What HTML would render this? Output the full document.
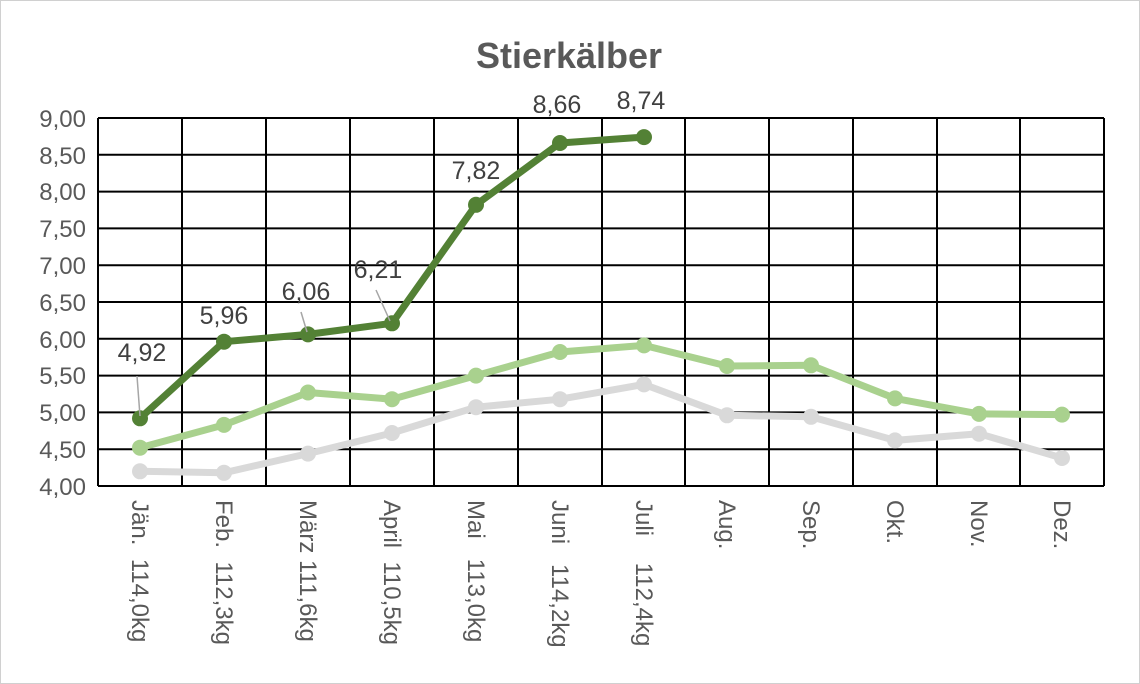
<!DOCTYPE html>
<html><head><meta charset="utf-8"><style>body{margin:0;background:#fff}svg{display:block}</style></head>
<body>
<svg width="1140" height="684" xmlns="http://www.w3.org/2000/svg" font-family="Liberation Sans, sans-serif">
<rect x="0.5" y="0.5" width="1139" height="683" fill="#fff" stroke="#d0d0d0"/>
<text x="569" y="68" text-anchor="middle" font-size="36" font-weight="bold" fill="#595959">Stierkälber</text>
<g stroke="#000" stroke-width="2">
<line x1="98" y1="118" x2="1104" y2="118"/><line x1="98" y1="154.8" x2="1104" y2="154.8"/><line x1="98" y1="191.6" x2="1104" y2="191.6"/><line x1="98" y1="228.4" x2="1104" y2="228.4"/><line x1="98" y1="265.2" x2="1104" y2="265.2"/><line x1="98" y1="302" x2="1104" y2="302"/><line x1="98" y1="338.8" x2="1104" y2="338.8"/><line x1="98" y1="375.6" x2="1104" y2="375.6"/><line x1="98" y1="412.4" x2="1104" y2="412.4"/><line x1="98" y1="449.2" x2="1104" y2="449.2"/><line x1="98" y1="486" x2="1104" y2="486"/>
<line x1="98" y1="118" x2="98" y2="486"/><line x1="182" y1="118" x2="182" y2="486"/><line x1="266" y1="118" x2="266" y2="486"/><line x1="350" y1="118" x2="350" y2="486"/><line x1="434" y1="118" x2="434" y2="486"/><line x1="518" y1="118" x2="518" y2="486"/><line x1="602" y1="118" x2="602" y2="486"/><line x1="685" y1="118" x2="685" y2="486"/><line x1="769" y1="118" x2="769" y2="486"/><line x1="853" y1="118" x2="853" y2="486"/><line x1="937" y1="118" x2="937" y2="486"/><line x1="1020" y1="118" x2="1020" y2="486"/><line x1="1104" y1="118" x2="1104" y2="486"/>
</g>
<g font-size="24" fill="#595959" text-anchor="end">
<text x="86" y="127">9,00</text><text x="86" y="164">8,50</text><text x="86" y="200">8,00</text><text x="86" y="237">7,50</text><text x="86" y="274">7,00</text><text x="86" y="311">6,50</text><text x="86" y="348">6,00</text><text x="86" y="384">5,50</text><text x="86" y="421">5,00</text><text x="86" y="458">4,50</text><text x="86" y="495">4,00</text>
</g>
<g font-size="24" fill="#595959">
<text transform="translate(132,500) rotate(90)" xml:space="preserve">Jän.  114,0kg</text>
<text transform="translate(216,500) rotate(90)" xml:space="preserve">Feb.  112,3kg</text>
<text transform="translate(300,500) rotate(90)">März 111,6kg</text>
<text transform="translate(384,500) rotate(90)" xml:space="preserve">April  110,5kg</text>
<text transform="translate(468,500) rotate(90)" xml:space="preserve">Mai   113,0kg</text>
<text transform="translate(552,500) rotate(90)" xml:space="preserve">Juni   114,2kg</text>
<text transform="translate(636,500) rotate(90)" xml:space="preserve">Juli    112,4kg</text>
<text transform="translate(719,500) rotate(90)">Aug.</text>
<text transform="translate(803,500) rotate(90)">Sep.</text>
<text transform="translate(887,500) rotate(90)">Okt.</text>
<text transform="translate(971,500) rotate(90)">Nov.</text>
<text transform="translate(1054,500) rotate(90)">Dez.</text>
</g>
<g fill="none" stroke-width="7" stroke-linejoin="round">
<polyline stroke="#d9d9d9" points="140,471.3 224,472.8 308,453.6 392,433 476,407.2 560,399.2 644,384.4 727,415.3 811,416.8 895,440.4 979,433.7 1062,458"/>
<polyline stroke="#a9d18e" points="140,447.7 224,424.9 308,392.5 392,399.2 476,375.6 560,352 644,345.4 727,366 811,365.3 895,398.4 979,413.9 1062,414.6"/>
<polyline stroke="#538135" points="140,418.3 224,341.7 308,334.4 392,323.3 476,204.8 560,143 644,137.1"/>
</g>
<g fill="#d9d9d9"><circle cx="140" cy="471.3" r="8"/><circle cx="224" cy="472.8" r="8"/><circle cx="308" cy="453.6" r="8"/><circle cx="392" cy="433" r="8"/><circle cx="476" cy="407.2" r="8"/><circle cx="560" cy="399.2" r="8"/><circle cx="644" cy="384.4" r="8"/><circle cx="727" cy="415.3" r="8"/><circle cx="811" cy="416.8" r="8"/><circle cx="895" cy="440.4" r="8"/><circle cx="979" cy="433.7" r="8"/><circle cx="1062" cy="458" r="8"/></g>
<g fill="#a9d18e"><circle cx="140" cy="447.7" r="8"/><circle cx="224" cy="424.9" r="8"/><circle cx="308" cy="392.5" r="8"/><circle cx="392" cy="399.2" r="8"/><circle cx="476" cy="375.6" r="8"/><circle cx="560" cy="352" r="8"/><circle cx="644" cy="345.4" r="8"/><circle cx="727" cy="366" r="8"/><circle cx="811" cy="365.3" r="8"/><circle cx="895" cy="398.4" r="8"/><circle cx="979" cy="413.9" r="8"/><circle cx="1062" cy="414.6" r="8"/></g>
<g fill="#538135"><circle cx="140" cy="418.3" r="8"/><circle cx="224" cy="341.7" r="8"/><circle cx="308" cy="334.4" r="8"/><circle cx="392" cy="323.3" r="8"/><circle cx="476" cy="204.8" r="8"/><circle cx="560" cy="143" r="8"/><circle cx="644" cy="137.1" r="8"/></g>
<g stroke="#a6a6a6" stroke-width="1.5"><line x1="137" y1="376" x2="140" y2="416"/><line x1="301" y1="312" x2="307" y2="332"/><line x1="376" y1="290" x2="390" y2="321"/></g>
<g font-size="25" fill="#404040" text-anchor="middle">
<text x="142" y="361">4,92</text><text x="224" y="324">5,96</text><text x="306" y="300">6,06</text><text x="378" y="278">6,21</text><text x="476" y="179">7,82</text><text x="557" y="113">8,66</text><text x="641" y="109">8,74</text>
</g>
</svg>
</body></html>
